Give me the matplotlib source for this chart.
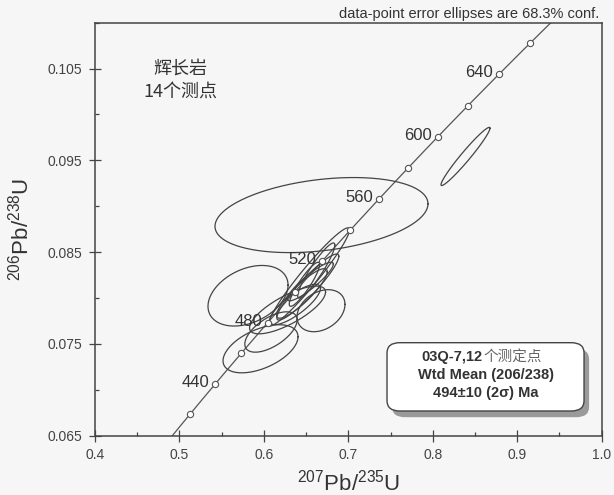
import numpy as np
import matplotlib
matplotlib.use("Agg")
import matplotlib.pyplot as plt
from matplotlib.patches import FancyBboxPatch

plt.rcParams['font.family'] = ['Liberation Sans', 'Noto Sans CJK SC', 'DejaVu Sans']
plt.rcParams['mathtext.fontset'] = 'custom'
plt.rcParams['mathtext.rm'] = 'Liberation Sans'
plt.rcParams['axes.unicode_minus'] = False

# decay constants (1/yr)
lam238 = 1.55125e-10
lam235 = 9.8485e-10

# concordia marker ages (Ma) and labelled ages
marker_ages = [420, 440, 460, 480, 500, 520, 540, 560, 580, 600, 620, 640, 660]
label_ages = [440, 480, 520, 560, 600, 640]

# axis ticks
x_ticks = [0.4, 0.5, 0.6, 0.7, 0.8, 0.9, 1.0]
x_minor = [0.45, 0.55, 0.65, 0.75, 0.85, 0.95]
y_ticks = [0.065, 0.075, 0.085, 0.095, 0.105]
y_minor = [0.070, 0.080, 0.090, 0.100, 0.110]

# error ellipses: centre 207/235, centre 206/238, half widths, correlation
ell_x = [0.6682, 0.8387, 0.5812, 0.6676, 0.5960, 0.6084,
         0.6534, 0.6520, 0.6550, 0.6450, 0.6620, 0.6370, 0.6280, 0.6480]
ell_y = [0.08904, 0.09543, 0.08025, 0.07862, 0.07447, 0.07630,
         0.08230, 0.08120, 0.08180, 0.08050, 0.08300, 0.07930, 0.07870, 0.08150]
ell_sx = [0.1261, 0.0290, 0.0474, 0.0284, 0.0444, 0.0310,
          0.0480, 0.0367, 0.0272, 0.0300, 0.0220, 0.0300, 0.0450, 0.0180]
ell_sy = [0.00409, 0.00317, 0.00330, 0.00229, 0.00262, 0.00220,
          0.00535, 0.00360, 0.00210, 0.00270, 0.00300, 0.00220, 0.00260, 0.00240]
ell_rho = [0.30, 0.97, 0.35, 0.30, 0.50, 0.60,
           0.96, 0.93, 0.90, 0.88, 0.92, 0.80, 0.75, 0.90]


def concordia(t_ma):
    t = np.asarray(t_ma) * 1e6
    return np.exp(lam235 * t) - 1, np.exp(lam238 * t) - 1


def ellipse_xy(cx, cy, sx, sy, rho, n=240):
    a = np.linspace(0, 2 * np.pi, n)
    x = cx + sx * np.cos(a)
    y = cy + sy * (rho * np.cos(a) + np.sqrt(1 - rho ** 2) * np.sin(a))
    return x, y


bg = '#f6f6f7'
fig = plt.figure(figsize=(6.14, 4.95), dpi=100, facecolor=bg)
ax = fig.add_axes([0.1547, 0.1198, 0.8253, 0.8343], facecolor=bg)

# concordia curve
tt = np.linspace(380, 700, 600)
cx, cy = concordia(tt)
ax.plot(cx, cy, color='#555555', lw=0.9, zorder=2)

mx, my = concordia(marker_ages)
ax.plot(mx, my, 'o', ms=4.5, mfc='white', mec='#555555', mew=0.8, zorder=4)

for age in label_ages:
    lx, ly = concordia(age)
    ax.annotate(str(age), (lx, ly), xytext=(-4, 1), textcoords='offset points',
                ha='right', va='center', fontsize=12, color='#333333', zorder=5)

# ellipses
for i in range(len(ell_x)):
    ex, ey = ellipse_xy(ell_x[i], ell_y[i], ell_sx[i], ell_sy[i], ell_rho[i])
    ax.plot(ex, ey, color='#444444', lw=0.9, zorder=3)

ax.set_xlim(0.4, 1.0)
ax.set_ylim(0.065, 0.110)
ax.set_xticks(x_ticks)
ax.set_xticks(x_minor, minor=True)
ax.set_yticks(y_ticks)
ax.set_yticks(y_minor, minor=True)
ax.set_xticklabels(['%.1f' % v for v in x_ticks])
ax.set_yticklabels(['%.3f' % v for v in y_ticks])
ax.tick_params(which='major', direction='inout', length=8, width=0.9,
               labelsize=10, labelcolor='#444444', color='#444444', pad=5)
ax.tick_params(which='minor', direction='in', length=3, width=0.9, color='#444444')
for s in ax.spines.values():
    s.set_color('#444444')
    s.set_linewidth(1.1)

ax.set_xlabel(r'$^{207}$Pb/$^{235}$U', fontsize=16, color='#333333')
ax.xaxis.set_label_coords(0.5, -0.083)
ax.set_ylabel(r'$^{206}$Pb/$^{238}$U', fontsize=16, color='#333333')
ax.yaxis.set_label_coords(-0.122, 0.5)

ax.text(0.995, 1.003, 'data-point error ellipses are 68.3% conf.', transform=ax.transAxes,
        ha='right', va='bottom', fontsize=10.5, color='#333333')

ax.text(0.168, 0.888, '辉长岩', transform=ax.transAxes, ha='center', va='center',
        fontsize=13, color='#333333', family=['Noto Sans CJK SC'])
ax.text(0.168, 0.832, '14个测点', transform=ax.transAxes, ha='center', va='center',
        fontsize=13, color='#333333', family=['Noto Sans CJK SC', 'Liberation Sans'])

# result box with shadow
bx0, by0, bw, bh = 0.5763, 0.0598, 0.3888, 0.1654
shadow = FancyBboxPatch((bx0 + 0.010, by0 - 0.015), bw, bh, transform=ax.transAxes,
                        boxstyle='round,pad=0,rounding_size=0.025',
                        fc='#9a9a9a', ec='none', zorder=6)
box = FancyBboxPatch((bx0, by0), bw, bh, transform=ax.transAxes,
                     boxstyle='round,pad=0,rounding_size=0.025',
                     fc='white', ec='#444444', lw=1.0, zorder=7)
ax.add_patch(shadow)
ax.add_patch(box)
ax.text(0.7657, 0.180, '03Q-7,12', transform=ax.transAxes, ha='right', va='baseline',
        fontsize=10.5, fontweight='bold', color='#333333', zorder=8)
ax.text(0.7657, 0.180, '个测定点', transform=ax.transAxes, ha='left', va='baseline',
        fontsize=10.5, color='#666666', family=['Noto Sans CJK SC'], zorder=8)
ax.text(0.7708, 0.1470, 'Wtd Mean (206/238)', transform=ax.transAxes, ha='center',
        va='center', fontsize=10.5, fontweight='bold', color='#333333', zorder=8)
ax.text(0.7708, 0.1040, '494\u00b110 (2\u03c3) Ma', transform=ax.transAxes, ha='center',
        va='center', fontsize=10.5, fontweight='bold', color='#333333', zorder=8)

fig.savefig('out.png', dpi=100, facecolor=bg)
